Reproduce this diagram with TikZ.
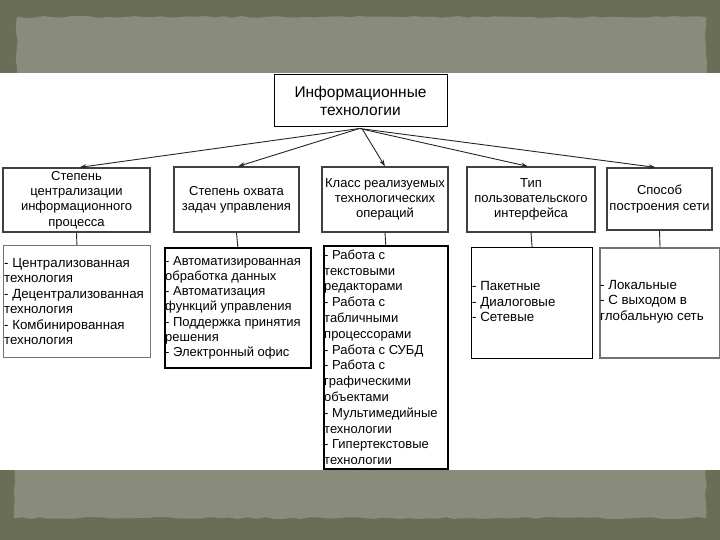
\documentclass[tikz,border=0pt]{standalone}
\usepackage{fontspec}
\setmainfont{Liberation Sans}
\usetikzlibrary{calc,arrows.meta,decorations.pathmorphing}
\definecolor{frameDark}{HTML}{6B6E57}
\definecolor{frameLight}{HTML}{8A8C7B}
\begin{document}
\begin{tikzpicture}[x=1pt,y=-1pt,
  rootbox/.style={draw=black, line width=1pt, fill=white, align=center,
    font=\fontsize{15.5}{18}\selectfont, inner sep=0pt},
  catbox/.style={draw=black!75, line width=1.2pt, fill=white, align=center,
    font=\fontsize{13}{15.3}\selectfont, inner sep=0pt},
  listbox/.style={fill=white, inner sep=0pt, anchor=north west},
  listtext/.style={align=left, font=\fontsize{13.3}{15.5}\selectfont,
    inner sep=0pt, inner xsep=1pt, anchor=west},
  arr/.style={-{Stealth[length=7pt,width=4.5pt]}, line width=0.9pt, black!85},
  link/.style={line width=0.9pt, black!85}]
\useasboundingbox (0,0) rectangle (720,540);
% background frame
\fill[frameDark] (0,0) rectangle (720,540);
\fill[frameLight, decorate, decoration={random steps, segment length=9pt, amplitude=1pt}]
  (17,17) -- (706,17) -- (706,518) -- (14,518) -- cycle;
\fill[white] (0,73) rectangle (720,470);

% root
\node[rootbox, minimum width=173pt, minimum height=52pt] (root) at (360.5,101)
  {Информационные\\технологии};
\coordinate (hub) at ($(root.south)+(-1,1)$);

% level 1
\node[catbox, minimum width=147pt, minimum height=64pt] (c1) at (76.5,200)
  {Степень\\централизации\\информационного\\процесса};
\node[catbox, minimum width=125pt, minimum height=65pt] (c2) at (236.5,199.5)
  {Степень охвата\\задач управления};
\node[catbox, minimum width=126pt, minimum height=65pt] (c3) at (385,199.5)
  {Класс реализуемых\\технологических\\операций};
\node[catbox, minimum width=128pt, minimum height=65pt] (c4) at (531,199.5)
  {Тип\\пользовательского\\интерфейса};
\node[catbox, minimum width=105pt, minimum height=62pt] (c5) at (659.5,199)
  {Способ\\построения сети};

% level 2 boxes
\node[listbox, draw=black!55, line width=0.8pt, minimum width=147pt, minimum height=112pt] (l1) at (3,245) {};
\node[listbox, draw=black, line width=1.6pt, minimum width=146pt, minimum height=120pt] (l2) at (164,247) {};
\node[listbox, draw=black, line width=1.5pt, minimum width=124pt, minimum height=223pt] (l3) at (323,245) {};
\node[listbox, draw=black, line width=1.2pt, minimum width=121pt, minimum height=111pt] (l4) at (471,247) {};
\node[listbox, draw=black!55, line width=2pt, minimum width=120pt, minimum height=110pt] (l5) at (599,247) {};

\node[listtext] (t1) at (l1.west) {- Централизованная\\технология\\- Децентрализованная\\технология\\- Комбинированная\\технология};
\node[listtext, font=\fontsize{13}{15.2}\selectfont] (t2) at (l2.west) {- Автоматизированная\\обработка данных\\- Автоматизация\\функций управления\\- Поддержка принятия\\решения\\- Электронный офис};
\node[listtext, font=\fontsize{13}{15.8}\selectfont] (t3) at (l3.west) {- Работа с\\текстовыми\\редакторами\\- Работа с\\табличными\\процессорами\\- Работа с СУБД\\- Работа с\\графическими\\объектами\\- Мультимедийные\\технологии\\- Гипертекстовые\\технологии};
\node[listtext] (t4) at ($(l4.west)+(0,-1.5)$) {- Пакетные\\- Диалоговые\\- Сетевые};
\node[listtext] (t5) at ($(l5.west)+(0,-1.5)$) {- Локальные\\- С выходом в\\глобальную сеть};

% arrows
\draw[arr] (hub) -- ($(c1.north)+(3,0)$);
\draw[arr] (hub) -- ($(c2.north)+(1.5,0)$);
\draw[arr] ($(hub)+(3,1)$) -- (c3.north);
\draw[arr] (hub) -- ($(c4.north)+(-3,0)$);
\draw[arr] (hub) -- ($(c5.north)+(-4,0)$);

% vertical links
\draw[link] (c1.south) -- (l1.north);
\draw[link] (c2.south) -- (l2.north);
\draw[link] (c3.south) -- (l3.north);
\draw[link] (c4.south) -- (l4.north);
\draw[link] (c5.south) -- (l5.north);
\end{tikzpicture}
\end{document}
